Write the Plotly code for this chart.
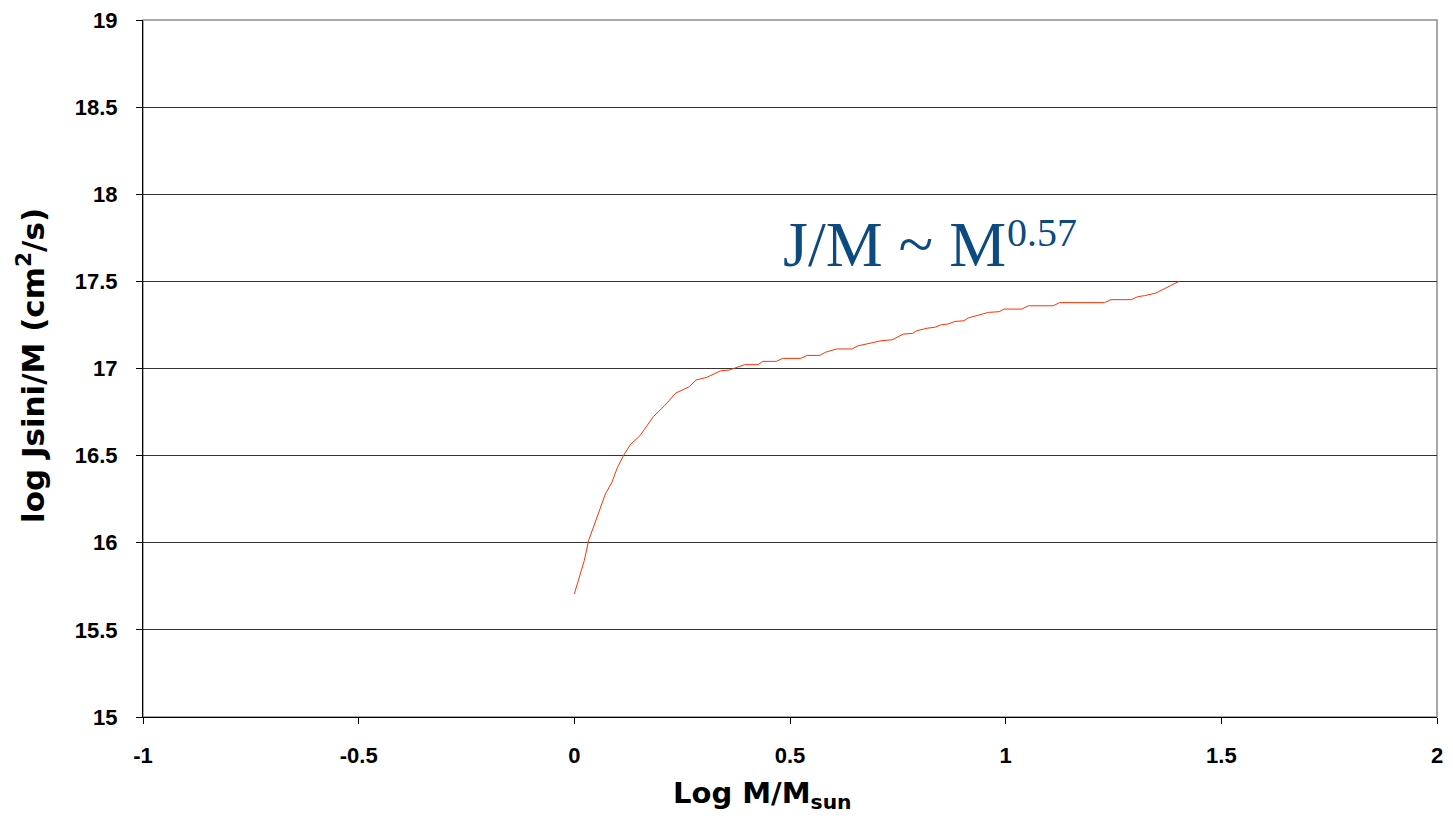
import plotly.graph_objects as go

log_m = [0.0, 0.023, 0.033, 0.043, 0.057, 0.072, 0.087, 0.100, 0.116, 0.131, 0.152, 0.183,
         0.209, 0.235, 0.266, 0.282, 0.307, 0.339, 0.359, 0.395, 0.426, 0.437, 0.468, 0.483,
         0.525, 0.540, 0.569, 0.582, 0.608, 0.644, 0.656, 0.685, 0.711, 0.737, 0.763, 0.784,
         0.794, 0.820, 0.835, 0.851, 0.866, 0.882, 0.903, 0.913, 0.939, 0.960, 0.985, 0.996,
         1.037, 1.053, 1.110, 1.125, 1.229, 1.244, 1.291, 1.306, 1.322, 1.348, 1.402]
log_j = [15.706, 15.897, 16.012, 16.079, 16.174, 16.280, 16.346, 16.433, 16.509, 16.566, 16.614, 16.723,
         16.786, 16.859, 16.895, 16.934, 16.949, 16.987, 16.991, 17.022, 17.022, 17.041, 17.041, 17.058,
         17.058, 17.075, 17.075, 17.093, 17.112, 17.112, 17.129, 17.144, 17.159, 17.165, 17.198, 17.201,
         17.217, 17.232, 17.236, 17.251, 17.255, 17.270, 17.274, 17.290, 17.307, 17.322, 17.326, 17.341,
         17.341, 17.360, 17.360, 17.378, 17.378, 17.395, 17.395, 17.412, 17.418, 17.433, 17.500]

x_ticks = [-1, -0.5, 0, 0.5, 1, 1.5, 2]
y_ticks = [15, 15.5, 16, 16.5, 17, 17.5, 18, 18.5, 19]

# page body has an 8px margin; figure is sized so the screenshot lines up
OFF = 8
W, H = 1453 - 2 * OFF, 821 - 2 * OFF
pl, pt = 143 - OFF, 20 - OFF
pr = W - (1437 - OFF)
pb = H - (717 - OFF)
pw, ph = W - pl - pr, H - pt - pb


def px(xs):  # screenshot x -> paper
    return (xs - OFF - pl) / pw


def py(ys):  # screenshot y -> paper
    return (H - (ys - OFF) - pb) / ph


fig = go.Figure()
fig.add_trace(go.Scatter(x=log_m, y=log_j, mode="lines",
                         line=dict(color="#FF3300", width=1), showlegend=False))

tickfont = dict(family="Liberation Sans, Arial, sans-serif", size=22, color="black", weight="bold")
fig.update_layout(
    width=W, height=H,
    margin=dict(l=pl, r=pr, t=pt, b=pb, pad=0, autoexpand=False),
    plot_bgcolor="white", paper_bgcolor="white",
    xaxis=dict(range=[-1, 2], tickvals=x_ticks, ticktext=[str(v) for v in x_ticks],
               showgrid=False, zeroline=False, showline=True, linecolor="black", linewidth=1,
               ticks="outside", ticklen=6, tickcolor="black", ticklabelstandoff=13,
               ticklabeloverflow="allow", automargin=False, tickfont=tickfont),
    yaxis=dict(range=[15, 19], tickvals=y_ticks, ticktext=[str(v) for v in y_ticks],
               showgrid=True, gridcolor="#333333", gridwidth=1, zeroline=False,
               showline=True, linecolor="black", linewidth=1,
               ticks="outside", ticklen=6, tickcolor="black", ticklabelstandoff=14,
               ticklabeloverflow="allow", automargin=False, tickfont=tickfont),
    shapes=[dict(type="rect", xref="paper", yref="paper", x0=0, x1=1, y0=0, y1=1,
                 line=dict(color="#8c8c8c", width=1.5), layer="below")],
    annotations=[
        dict(text="J/M ~ M", x=px(782), y=py(244), xref="paper", yref="paper",
             xanchor="left", yanchor="middle", showarrow=False, borderpad=0,
             font=dict(family="Liberation Serif, Times New Roman, serif", size=64, color="#0D4A7F")),
        dict(text="0.57", x=px(1006), y=py(232), xref="paper", yref="paper",
             xanchor="left", yanchor="middle", showarrow=False, borderpad=0,
             font=dict(family="Liberation Serif, Times New Roman, serif", size=40, color="#0D4A7F")),
        dict(text="<b>Log M/M<sub>sun</sub></b>", x=px(672), y=py(795), xref="paper", yref="paper",
             xanchor="left", yanchor="middle", showarrow=False, borderpad=0,
             font=dict(family="DejaVu Sans, sans-serif", size=29, color="black")),
        dict(text="<b>log Jsini/M (cm<sup>2</sup>/s)</b>", x=px(31), y=py(366), xref="paper", yref="paper",
             xanchor="center", yanchor="middle", showarrow=False, textangle=-90, borderpad=0,
             font=dict(family="DejaVu Sans, sans-serif", size=31, color="black")),
    ],
)
fig.write_html("out.html")
